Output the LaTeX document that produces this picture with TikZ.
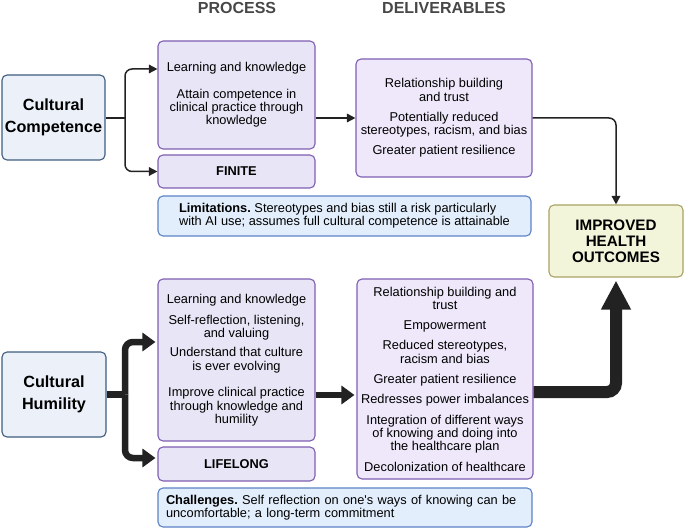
\documentclass[tikz,border=0pt]{standalone}
\usepackage{fontspec}
\setmainfont{Liberation Sans}[Ligatures=TeXOff]
\usetikzlibrary{arrows.meta}
\frenchspacing
\definecolor{frameblue}{HTML}{3E5C7E}
\definecolor{fillblue}{HTML}{EBF0F9}
\definecolor{framepurple}{HTML}{7E5EB2}
\definecolor{fillpurple}{HTML}{E8E6F6}
\definecolor{filllilac}{HTML}{EEE8FA}
\definecolor{framenote}{HTML}{5B82C6}
\definecolor{fillnote}{HTML}{E3EEFC}
\definecolor{frameolive}{HTML}{A9A264}
\definecolor{fillolive}{HTML}{F2F5DA}
\definecolor{ink}{HTML}{222222}
\definecolor{headgray}{HTML}{474747}
\tikzset{
  box/.style={draw, line width=1.1pt, rounded corners=5pt, inner sep=0pt, align=center,
    font=\fontsize{12.8}{13.3}\selectfont, text=black},
  conceptbox/.style={box, draw=frameblue, fill=fillblue,
    font=\bfseries\fontsize{16.2}{21.7}\selectfont},
  processbox/.style={box, draw=framepurple, fill=fillpurple},
  deliverbox/.style={box, draw=framepurple, fill=filllilac},
  notebox/.style={box, draw=framenote, fill=fillnote, align=left},
  outcomebox/.style={box, draw=frameolive, fill=fillolive,
    font=\bfseries\fontsize{15.2}{16}\selectfont},
  header/.style={font=\bfseries\fontsize{16}{18}\selectfont, text=headgray},
  thinlink/.style={draw=ink, line width=1.5pt, rounded corners=7pt,
    -{Triangle[length=8.5pt,width=8.5pt]}},
  thicklink/.style={draw=ink, line width=6.5pt, rounded corners=8pt,
    -{Triangle[length=13pt,width=18pt]}, shorten >=2pt},
  heavylink/.style={draw=ink, line width=12pt, rounded corners=9pt,
    -{Triangle[length=29pt,width=28pt]}, shorten >=3pt},
}
\begin{document}
\begin{tikzpicture}[x=1pt, y=-1pt]
\useasboundingbox (0,0) rectangle (685,529);

% column headings
\node[header] (hproc) at (237,7.5) {PROCESS};
\node[header] (hdel) at (444,7.5) {DELIVERABLES};

% cultural competence row
\node[conceptbox, minimum width=103pt, minimum height=85pt] (cc) at (53.5,117.5) {Cultural\\Competence};
\node[processbox, minimum width=157pt, minimum height=108pt] (p1) at (236.5,95)
  {Learning and knowledge\\[13.4pt]Attain competence in\\clinical practice through\\knowledge};
\node[processbox, minimum width=157pt, minimum height=33pt, font=\bfseries\fontsize{12.8}{13.3}\selectfont] (fin) at (236.5,171.5) {FINITE};
\node[notebox, minimum width=373pt, minimum height=40pt] (lim) at (344.5,216)
  {\textbf{Limitations.} Stereotypes and bias still a risk particularly\\with AI use; assumes full cultural competence is attainable};
\node[deliverbox, minimum width=176pt, minimum height=118pt] (d1) at (444,118)
  {Relationship building\\and trust\\[7.3pt]Potentially reduced\\stereotypes, racism, and bias\\[6.7pt]Greater patient resilience};

% outcome
\node[outcomebox, minimum width=134pt, minimum height=72pt] (imp) at (616,241) {IMPROVED\\HEALTH\\OUTCOMES};

% cultural humility row
\node[conceptbox, minimum width=104pt, minimum height=85pt] (ch) at (54,394.5) {Cultural\\Humility};
\node[processbox, minimum width=157pt, minimum height=162pt] (p2) at (236.5,360)
  {Learning and knowledge\\[7.7pt]Self-reflection, listening,\\and valuing\\[6.1pt]Understand that culture\\is ever evolving\\[13.3pt]Improve clinical practice\\through knowledge and\\humility};
\node[processbox, minimum width=157pt, minimum height=34pt, font=\bfseries\fontsize{12.8}{13.3}\selectfont] (life) at (236.5,464) {LIFELONG};
\node[notebox, text width=358pt, minimum width=374pt, minimum height=39pt] (chal) at (345,507.5)
  {\textbf{Challenges.} Self reflection on one's ways of knowing can be\\uncomfortable; a long-term commitment};
\node[deliverbox, minimum width=176pt, minimum height=200pt] (d2) at (445,379)
  {Relationship building and\\trust\\[7pt]Empowerment\\[7pt]Reduced stereotypes,\\racism and bias\\[7pt]Greater patient resilience\\[7pt]Redresses power imbalances\\[7pt]Integration of different ways\\of knowing and doing into\\the healthcare plan\\[7pt]Decolonization of healthcare};

% competence connectors
\coordinate (ccj) at (125,118);
\draw[draw=ink, line width=1.5pt] (cc.east |- ccj) -- (ccj);
\draw[thinlink] (ccj) |- ([yshift=26pt]p1.west);
\draw[thinlink] (ccj) |- (fin.west);
\draw[thinlink] (p1.east |- d1.west) -- (d1.west);
\draw[thinlink] (d1.east) -| (imp.north);

% humility connectors
\coordinate (chj) at (125,394.5);
\draw[draw=ink, line width=6.5pt] (ch.east) -- (chj);
\draw[thicklink] (chj) |- ([yshift=18pt]p2.west);
\draw[thicklink] (chj) |- ([yshift=6pt]life.west);
\draw[thicklink] (p2.east |- 0,395) -- ([yshift=-16pt]d2.west);
\draw[heavylink] ([yshift=-13pt]d2.east) -| (imp.south);
\end{tikzpicture}
\end{document}
